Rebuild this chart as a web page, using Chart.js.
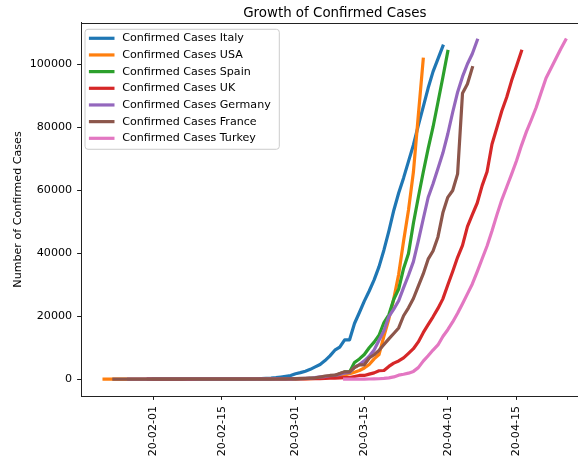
<!DOCTYPE html>
<html>
<head>
<meta charset="utf-8">
<script src="https://cdn.jsdelivr.net/npm/chart.js@4/dist/chart.umd.min.js"></script>
<style>
html,body{margin:0;padding:0;overflow:hidden;background:#fff;width:578px;height:460px;}
canvas{display:block;}
</style>
</head>
<body>
<canvas id="c" width="592" height="460"></canvas>
<script>
// ---------- DATA ----------
const baseDate = '2020-01-22';
const tickDates = ['2020-02-01','2020-02-15','2020-03-01','2020-03-15','2020-04-01','2020-04-15'];
const tickLabels = ['20-02-01','20-02-15','20-03-01','20-03-15','20-04-01','20-04-15'];
const yTickValues = [0, 20000, 40000, 60000, 80000, 100000];

const seriesLabels = ['Confirmed Cases Italy','Confirmed Cases USA','Confirmed Cases Spain',
  'Confirmed Cases UK','Confirmed Cases Germany','Confirmed Cases France','Confirmed Cases Turkey'];

const italyStart = '2020-01-31';
const italy = [2,2,2,2,2,2,2, 3,3,3,3,3,3,3,3,3,3,3,3,3,3,
  20,62,155,229,322,453,655,888,1128,1694,2036,2502,3089,3858,4636,5883,7375,9172,10149,
  12462,12462,17660,21157,24747,27980,31506,35713,41035,47021,53578,59138,63927,69176,
  74386,80589,86498,92472,97689,101739,105792];

const usaStart = '2020-01-22';
const usa = [1,1,2,2,5,5,5,5,5,6,8,8,11,11,11,11,11,11,11,11,12,12,13,13,13,13,13,13,13,13,
  15,15,15,51,51,57,58,60,68,74,98,118,149,217,262,402,518,583,959,1281,1663,2179,2727,
  3499,4632,6421,7783,13677,19100,25489,33276,43847,53740,65778,83836,101657];

const spainStart = '2020-02-01';
const spain = [1,1,1,1,1,1,1,1, 2,2,2,2,2,2,2,2,2,2,2,2,2,2,2,2,
  6,13,15,32,45,84,120,165,222,259,400,500,673,1073,1695,2277,2277,5232,6391,7798,9942,
  11748,13910,17963,20410,25374,28603,35136,39885,49515,57786,65719,73235,80110,87956,
  95923,104118];

const ukStart = '2020-01-31';
const uk = [2,2,2,2,2,2,2,3,3,3,8,8,9,9,9,9,9,9,9,9,9,9,9,9,9,13,13,15,20,23,36,40,51,86,
  116,164,209,278,321,383,456,459,802,1144,1145,1551,1960,2642,2716,4014,5067,5745,6726,
  8164,9640,11812,14745,17312,19780,22453,25481,29865,34173,38689,42477,48436,52279,
  55949,61474,65872,74605,79874,85206,89570,94845,99483,104145];

const germanyStart = '2020-01-27';
const germany = [1,4,4,4,5,8,10,12,12,12,12,13,13,14,14,16,16,16,16,16,16,16,16,16,16,16,
  16,16,16,17,27,46,48,79,130,159,196,262,482,670,799,1040,1176,1457,1908,2078,3675,4585,
  5795,7272,9257,12327,15320,19848,22213,24873,29056,32986,37323,43938,50871,57695,62095,
  66885,71808,77872,84794,91159,96092,100123,103374,107663];

const franceStart = '2020-01-24';
const france = [2,3,3,3,4,5,5,5,6,6,6,6,6,6,6,11,11,11,11,11,11,11,12,12,12,12,12,12,12,12,
  12,12,14,18,38,57,100,130,191,204,288,380,656,959,1136,1219,1794,2293,2293,3681,4496,
  4532,6683,7715,9124,10970,12758,14463,16243,20123,22622,25600,29551,33402,38105,40708,
  45170,52827,57749,59929,65202,90848,93773,98963];

const turkeyStart = '2020-03-11';
const turkey = [1,1,5,5,6,18,47,98,192,359,670,1236,1529,1872,2433,3629,5698,7402,9217,
  10827,13531,15679,18135,20921,23934,27069,30217,34109,38226,42282,47029,52167,56956,
  61049,65111,69392,74193,78546,82329,86306,90980,95591,98674,101790,104912,107773];

// ---------- helpers ----------
const DAY = 86400000;
function dayIndex(s){ const [y,m,d]=s.split('-').map(Number); const [by,bm,bd]=baseDate.split('-').map(Number);
  return Math.round((Date.UTC(y,m-1,d)-Date.UTC(by,bm-1,bd))/DAY); }
function toPoints(start, vals){ const s = dayIndex(start); return vals.map((v,i)=>({x:s+i, y:v})); }
const tickDays = tickDates.map(dayIndex);

const seriesData = [
  toPoints(italyStart, italy), toPoints(usaStart, usa), toPoints(spainStart, spain),
  toPoints(ukStart, uk), toPoints(germanyStart, germany), toPoints(franceStart, france),
  toPoints(turkeyStart, turkey)
];
const colors = ['#1f77b4','#ff7f0e','#2ca02c','#d62728','#9467bd','#8c564b','#e377c2'];

// axis ranges with 5% margins like matplotlib
let xmin=Infinity,xmax=-Infinity,ymin=Infinity,ymax=-Infinity;
seriesData.forEach(s=>s.forEach(p=>{xmin=Math.min(xmin,p.x);xmax=Math.max(xmax,p.x);ymin=Math.min(ymin,p.y);ymax=Math.max(ymax,p.y);}));
ymin = 0;
const xr = xmax-xmin, yr = ymax-ymin;

const FONT = 'DejaVu Sans';

const topSpine = {
  id:'topSpine',
  afterDraw(chart){
    const {ctx, chartArea:a} = chart;
    ctx.save();
    ctx.strokeStyle='#222'; ctx.lineWidth=1;
    ctx.beginPath(); ctx.moveTo(a.left, Math.round(a.top)+0.5); ctx.lineTo(a.right, Math.round(a.top)+0.5); ctx.stroke();
    ctx.restore();
  }
};

const boxLegend = {
  id:'boxLegend',
  afterDatasetsDraw(chart){
    const {ctx, chartArea:a} = chart;
    const ds = chart.data.datasets;
    const x0 = a.left + 4, y0 = a.top + 6.3, w = 194.3, h = 120, r = 3;
    ctx.save();
    ctx.beginPath();
    ctx.moveTo(x0+r,y0); ctx.lineTo(x0+w-r,y0); ctx.quadraticCurveTo(x0+w,y0,x0+w,y0+r);
    ctx.lineTo(x0+w,y0+h-r); ctx.quadraticCurveTo(x0+w,y0+h,x0+w-r,y0+h);
    ctx.lineTo(x0+r,y0+h); ctx.quadraticCurveTo(x0,y0+h,x0,y0+h-r);
    ctx.lineTo(x0,y0+r); ctx.quadraticCurveTo(x0,y0,x0+r,y0); ctx.closePath();
    ctx.fillStyle='rgba(255,255,255,0.8)'; ctx.fill();
    ctx.strokeStyle='#cccccc'; ctx.lineWidth=1; ctx.stroke();
    ds.forEach((d,i)=>{
      const cy = y0 + 9 + i*16.67;
      ctx.strokeStyle = d.borderColor; ctx.lineWidth = 3.2; ctx.lineCap='square';
      ctx.beginPath(); ctx.moveTo(x0+5.5, cy); ctx.lineTo(x0+27.9, cy); ctx.stroke();
      ctx.fillStyle='#000'; ctx.font = '11.1px "'+FONT+'"'; ctx.textBaseline='middle'; ctx.textAlign='left';
      ctx.fillText(d.label, x0+37.2, cy);
    });
    ctx.restore();
  }
};

new Chart(document.getElementById('c'), {
  type:'line',
  data:{
    datasets: seriesData.map((pts,i)=>({
      label: seriesLabels[i], data: pts, borderColor: colors[i], backgroundColor: colors[i],
      order: seriesData.length - 1 - i,
      borderWidth: 3.2, pointRadius: 0, pointHoverRadius: 0, tension: 0, fill: false,
      borderCapStyle: 'square', borderJoinStyle: 'round'
    }))
  },
  options:{
    responsive:false, animation:false, devicePixelRatio:1,
    parsing:false, normalized:true,
    layout:{ padding:{ top:0, right:3.3, left:0, bottom:0 } },
    plugins:{
      legend:{ display:false },
      tooltip:{ enabled:false },
      title:{ display:true, text:'Growth of Confirmed Cases', fullSize:false, color:'#000',
        font:{ family:FONT, size:13.4, weight:'normal' }, padding:{ top:5.6, bottom:1.3 } }
    },
    scales:{
      x:{
        type:'linear', min: xmin - 0.05*xr, max: xmax + 0.05*xr,
        afterBuildTicks: s => { s.ticks = tickDays.map(v=>({value:v})); },
        afterFit: s => { s.height = 64; },
        ticks:{ autoSkip:false, minRotation:90, maxRotation:90, padding:6, color:'#000',
          font:{ family:FONT, size:11.1 },
          callback: (v) => { const i = tickDays.indexOf(v); return i>=0 ? tickLabels[i] : ''; } },
        grid:{ display:true, drawOnChartArea:false, drawTicks:true, tickLength:3.9, color:'#000', lineWidth:0.9 },
        border:{ display:true, color:'#222', width:1 }
      },
      y:{
        type:'linear', min: ymin - 0.05*yr, max: ymax + 0.05*yr,
        afterBuildTicks: s => { s.ticks = yTickValues.map(v=>({value:v})); },
        afterFit: s => { s.width = 81; },
        ticks:{ padding:5, color:'#000', font:{ family:FONT, size:11.1 }, callback: v => String(v) },
        grid:{ display:true, drawOnChartArea:false, drawTicks:true, tickLength:3.9, color:'#000', lineWidth:0.9 },
        border:{ display:true, color:'#222', width:1 },
        title:{ display:true, text:'Number of Confirmed Cases', color:'#000',
          font:{ family:FONT, size:11.1 }, padding:{ top:11.5, bottom:0 } }
      }
    }
  },
  plugins:[topSpine, boxLegend]
});
</script>
</body>
</html>
